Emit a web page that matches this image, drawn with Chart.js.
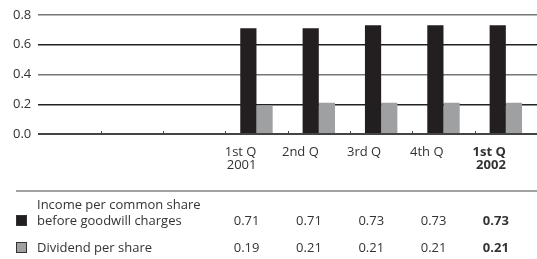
<!DOCTYPE html>
<html>
<head>
<meta charset="utf-8">
<script src="https://cdn.jsdelivr.net/npm/chart.js@4"></script>
<style>
  html, body { margin: 0; padding: 0; background: #fff; }
  #wrap { width: 537px; height: 259px; }
</style>
</head>
<body>
<div id="wrap"><canvas id="myChart"></canvas></div>
<script>
let labels = ['', '', '', ['1st Q', '2001'], '2nd Q', '3rd Q', '4th Q', ['1st Q', '2002']];
let income = [null, null, null, 0.71, 0.71, 0.73, 0.73, 0.73];
let dividend = [null, null, null, 0.19, 0.21, 0.21, 0.21, 0.21];
let seriesNames = [['Income per common share', 'before goodwill charges'], ['Dividend per share']];
let yTicks = [0, 0.2, 0.4, 0.6, 0.8];

let colors = ['#231f20', '#9fa0a2'];
let textColor = '#333';
let fontFamily = '"Open Sans", sans-serif';
let lastIndex = labels.length - 1;

// table under the chart: rule, legend boxes and the values per quarter
let tablePlugin = {
    id: 'table',
    afterDraw(chart) {
        let ctx = chart.ctx;
        let x = chart.scales.x;
        let area = chart.chartArea;
        ctx.save();

        // small tick marks on the baseline between categories
        ctx.strokeStyle = '#444';
        ctx.lineWidth = 1;
        let step = x.getPixelForValue(1) - x.getPixelForValue(0);
        for (let i = 1; i < labels.length; i++) {
            let px = Math.round(x.getPixelForValue(i) - step / 2) + 0.5;
            ctx.beginPath();
            ctx.moveTo(px, area.bottom - 3);
            ctx.lineTo(px, area.bottom);
            ctx.stroke();
        }

        // rule
        ctx.strokeStyle = '#444';
        ctx.lineWidth = 1.2;
        ctx.beginPath();
        ctx.moveTo(16, 191);
        ctx.lineTo(537, 191);
        ctx.stroke();

        let rows = [
            { name: seriesNames[0], data: income, color: colors[0], nameY: [205, 221], y: 221 },
            { name: seriesNames[1], data: dividend, color: colors[1], nameY: [248], y: 248 }
        ];
        ctx.textBaseline = 'middle';
        rows.forEach(row => {
            // legend box
            ctx.fillStyle = row.color;
            ctx.fillRect(16.5, row.y - 5.5, 10, 10);
            ctx.strokeStyle = '#333';
            ctx.lineWidth = 1;
            ctx.strokeRect(16.5, row.y - 5.5, 10, 10);

            ctx.fillStyle = textColor;
            ctx.font = '13px ' + fontFamily;
            ctx.textAlign = 'left';
            row.name.forEach((line, k) => ctx.fillText(line, 37, row.nameY[k]));

            ctx.textAlign = 'right';
            row.data.forEach((v, i) => {
                if (v === null) return;
                ctx.font = (i === lastIndex ? 'bold ' : '') + '13px ' + fontFamily;
                ctx.fillText(v.toFixed(2), x.getPixelForValue(i) + 3, row.y);
            });
        });
        ctx.restore();
    }
};

let gridColor = v => {
    if (Math.abs(v) < 1e-9) return '#444';
    return Math.round(v * 10) % 4 === 2 ? '#222' : '#777';
};

let myChart = document.getElementById('myChart').getContext('2d');

let chart = new Chart(myChart, {
    type: 'bar',
    data: {
        labels: labels,
        datasets: [{
            label: 'Income per common share before goodwill charges',
            data: income,
            backgroundColor: colors[0]
        }, {
            label: 'Dividend per share',
            data: dividend,
            backgroundColor: colors[1]
        }]
    },
    options: {
        responsive: true,
        maintainAspectRatio: false,
        animation: false,
        layout: {
            padding: { left: 6, right: 0, top: 0, bottom: 83 }
        },
        datasets: {
            bar: { categoryPercentage: 0.52, barPercentage: 1 }
        },
        plugins: {
            legend: { display: false },
            tooltip: { enabled: false }
        },
        scales: {
            x: {
                grid: { display: false },
                border: { display: false },
                ticks: {
                    align: 'end',
                    padding: 4,
                    color: textColor,
                    font: c => ({
                        family: fontFamily,
                        size: 13,
                        weight: c.index === lastIndex ? 'bold' : 'normal',
                        lineHeight: 1.0
                    })
                }
            },
            y: {
                min: 0,
                max: 0.8,
                afterBuildTicks: axis => { axis.ticks = yTicks.map(v => ({ value: v })); },
                grid: {
                    color: c => gridColor(c.tick.value),
                    lineWidth: c => (c.tick.value === 0 ? 2 : 1.4),
                    drawTicks: false
                },
                border: { display: false },
                ticks: {
                    padding: 7,
                    color: textColor,
                    font: { family: fontFamily, size: 13 },
                    callback: v => Number(v).toFixed(1)
                }
            }
        }
    },
    plugins: [tablePlugin]
});
</script>
</body>
</html>
